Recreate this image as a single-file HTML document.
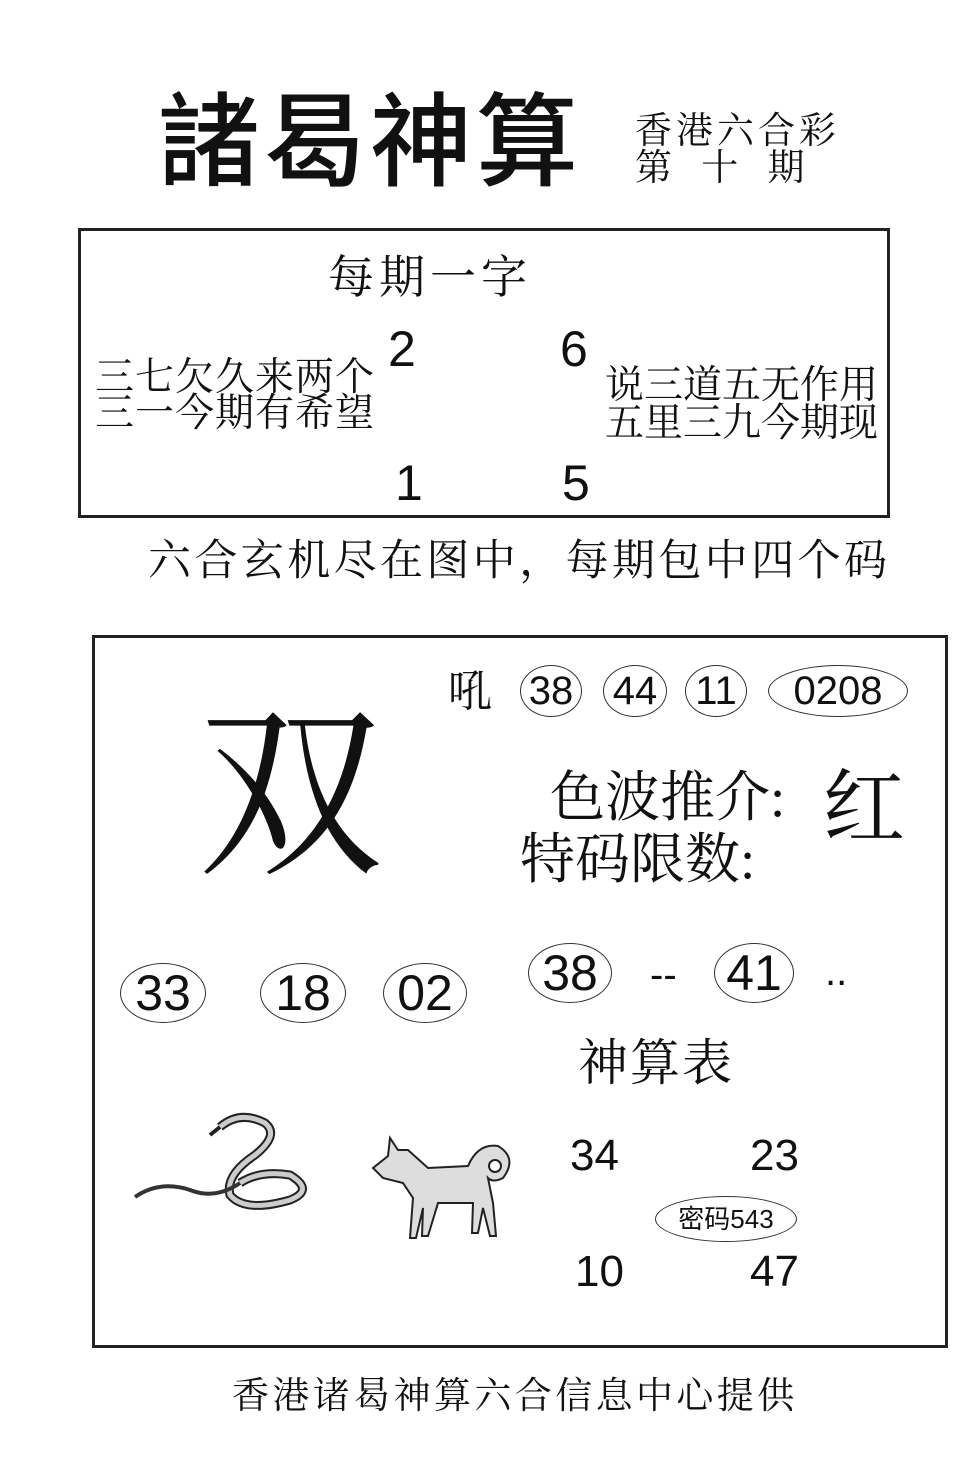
<!DOCTYPE html>
<html><head><meta charset="utf-8"><style>
body{margin:0;background:#fff;}
#p{position:relative;width:978px;height:1458px;overflow:hidden;background:#fff;font-family:"Liberation Sans","Noto Sans CJK SC",sans-serif;color:#111;}
.a{position:absolute;white-space:nowrap;line-height:1;}
.s{font-family:"Liberation Serif","Noto Serif CJK SC",serif;}
.c{position:absolute;border:1.5px solid #333;border-radius:50%;display:flex;align-items:center;justify-content:center;line-height:1;}
</style></head><body><div id="p">
<div class="a" style="left:158px;top:92px;font-size:102px;letter-spacing:4px;font-weight:500;">諸曷神算</div>
<div class="a s" style="left:635px;top:113px;font-size:37px;letter-spacing:4px;">香港六合彩</div>
<div class="a s" style="left:635px;top:150px;font-size:37px;letter-spacing:10px;">第 十 期</div>

<div class="a" style="left:78px;top:228px;width:806px;height:284px;border:3px solid #222;"></div>
<div class="a s" style="left:328px;top:255px;font-size:46px;letter-spacing:5px;">每期一字</div>
<div class="a" style="left:388px;top:324px;font-size:50px;">2</div>
<div class="a" style="left:560px;top:324px;font-size:50px;">6</div>
<div class="a s" style="left:95px;top:358px;font-size:39px;letter-spacing:1px;">三七欠久来两个</div>
<div class="a s" style="left:95px;top:394px;font-size:39px;letter-spacing:1px;">三一今期有希望</div>
<div class="a s" style="left:605px;top:366px;font-size:39px;">说三道五无作用</div>
<div class="a s" style="left:605px;top:404px;font-size:39px;">五里三九今期现</div>
<div class="a" style="left:395px;top:458px;font-size:50px;">1</div>
<div class="a" style="left:562px;top:458px;font-size:50px;">5</div>

<div class="a s" style="left:148px;top:540px;font-size:43px;letter-spacing:3.4px;">六合玄机尽在图中，每期包中四个码</div>

<div class="a" style="left:92px;top:635px;width:850px;height:707px;border:3px solid #222;"></div>
<div class="a s" style="left:448px;top:670px;font-size:44px;">吼</div>
<div class="c" style="left:520px;top:665px;width:60px;height:50px;font-size:40px;">38</div>
<div class="c" style="left:603px;top:665px;width:62px;height:50px;font-size:40px;">44</div>
<div class="c" style="left:685px;top:665px;width:60px;height:50px;font-size:40px;">11</div>
<div class="c" style="left:768px;top:665px;width:138px;height:50px;font-size:40px;">0208</div>
<div class="a s" style="left:198px;top:705px;font-size:185px;">双</div>
<div class="a s" style="left:550px;top:770px;font-size:55px;">色波推介:</div>
<div class="a s" style="left:823px;top:768px;font-size:82px;">红</div>
<div class="a s" style="left:520px;top:832px;font-size:55px;">特码限数:</div>

<div class="c" style="left:120px;top:963px;width:84px;height:58px;font-size:50px;">33</div>
<div class="c" style="left:260px;top:963px;width:84px;height:58px;font-size:50px;">18</div>
<div class="c" style="left:383px;top:963px;width:82px;height:58px;font-size:50px;">02</div>
<div class="c" style="left:528px;top:943px;width:82px;height:58px;font-size:50px;">38</div>
<div class="a" style="left:650px;top:955px;font-size:40px;">--</div>
<div class="c" style="left:714px;top:943px;width:78px;height:58px;font-size:50px;">41</div>
<div class="a" style="left:825px;top:952px;font-size:40px;">..</div>
<div class="a s" style="left:578px;top:1038px;font-size:50px;letter-spacing:2px;">神算表</div>

<svg class="a" style="left:130px;top:1105px" width="190" height="115" viewBox="0 0 190 115">
<path d="M90 22 Q110 5 135 18 Q150 30 125 50 Q95 70 100 90 Q115 108 160 95 Q185 85 160 70 Q130 65 110 78" fill="none" stroke="#222" stroke-width="9"/>
<path d="M90 22 Q110 5 135 18 Q150 30 125 50 Q95 70 100 90 Q115 108 160 95 Q185 85 160 70 Q130 65 110 78" fill="none" stroke="#ccc" stroke-width="5"/>
<path d="M110 78 Q85 95 60 85 Q30 75 5 92" fill="none" stroke="#333" stroke-width="4"/>
<path d="M90 22 L80 30" stroke="#222" stroke-width="4"/>
</svg>
<svg class="a" style="left:368px;top:1128px" width="150" height="115" viewBox="0 0 150 115">
<path d="M5 40 L20 28 L22 10 L30 22 L40 22 L60 40 L100 38 Q110 15 130 18 Q150 30 135 50 Q125 55 120 50 L125 75 L128 108 L122 108 L115 80 L110 105 L104 105 L105 75 L70 75 L60 108 L54 108 L55 80 L48 110 L42 110 L45 70 L35 55 L15 50 Z" fill="#ddd" stroke="#222" stroke-width="2"/>
<circle cx="127" cy="38" r="6" fill="#fff" stroke="#222" stroke-width="2"/>
</svg>

<div class="a" style="left:570px;top:1134px;font-size:44px;">34</div>
<div class="a" style="left:750px;top:1134px;font-size:44px;">23</div>
<div class="c" style="left:655px;top:1196px;width:140px;height:44px;font-size:26px;">密码543</div>
<div class="a" style="left:575px;top:1250px;font-size:44px;">10</div>
<div class="a" style="left:750px;top:1250px;font-size:44px;">47</div>

<div class="a s" style="left:232px;top:1378px;font-size:37px;letter-spacing:3.4px;">香港诸曷神算六合信息中心提供</div>
</div></body></html>
